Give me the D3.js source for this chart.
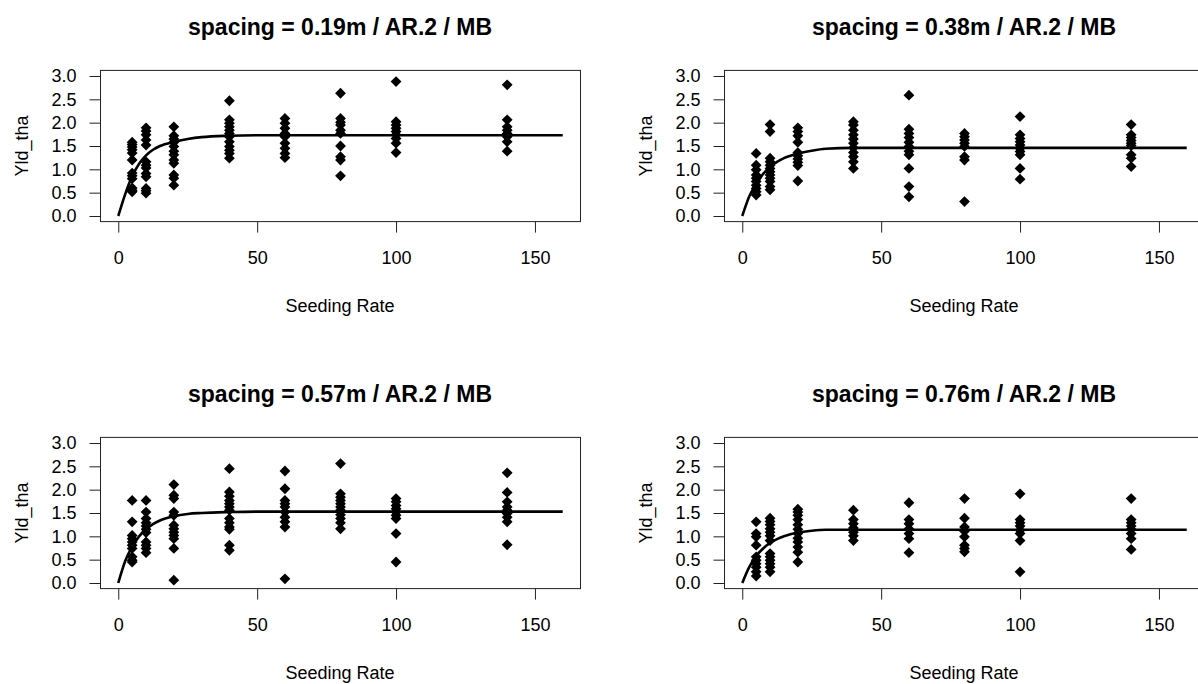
<!DOCTYPE html>
<html lang="en">
<head>
<meta charset="UTF-8">
<title>Seeding rate vs yield</title>
<script src="https://cdn.jsdelivr.net/npm/d3@7"></script>
<style>
  body { margin: 0; background: #fff; }
  text { font-family: "Liberation Sans", Arial, sans-serif; fill: #000; }
</style>
</head>
<body>
<script>

var rates = [5, 10, 20, 40, 60, 80, 100, 140];

var titles = [
    "spacing = 0.19m / AR.2 / MB",
    "spacing = 0.38m / AR.2 / MB",
    "spacing = 0.57m / AR.2 / MB",
    "spacing = 0.76m / AR.2 / MB"
];

// one list of yields per seeding rate
var yld019 = [
    [1.58, 1.53, 1.48, 1.42, 1.35, 1.2, 0.92, 0.86, 0.8, 0.6, 0.55, 0.52],
    [1.89, 1.82, 1.74, 1.63, 1.52, 1.16, 1.09, 1.03, 0.91, 0.84, 0.59, 0.54, 0.49],
    [1.91, 1.72, 1.65, 1.58, 1.49, 1.39, 1.31, 1.2, 1.13, 0.88, 0.81, 0.66],
    [2.47, 2.06, 1.99, 1.91, 1.84, 1.77, 1.7, 1.59, 1.49, 1.41, 1.34, 1.24],
    [2.09, 1.99, 1.88, 1.77, 1.7, 1.56, 1.45, 1.34, 1.25],
    [2.63, 2.09, 2.01, 1.95, 1.84, 1.77, 1.5, 1.27, 1.2, 0.86],
    [2.88, 2.02, 1.95, 1.88, 1.81, 1.74, 1.66, 1.56, 1.36],
    [2.81, 2.06, 1.91, 1.84, 1.77, 1.7, 1.59, 1.39]
];
var yld038 = [
    [1.34, 1.09, 0.99, 0.88, 0.81, 0.74, 0.66, 0.59, 0.52, 0.45],
    [1.96, 1.81, 1.24, 1.16, 1.09, 1.02, 0.95, 0.88, 0.81, 0.74, 0.63, 0.56],
    [1.89, 1.81, 1.72, 1.58, 1.36, 1.29, 1.22, 1.15, 1.08, 0.75],
    [2.02, 1.95, 1.84, 1.74, 1.65, 1.56, 1.46, 1.36, 1.27, 1.16, 1.02],
    [2.59, 1.86, 1.77, 1.68, 1.58, 1.49, 1.39, 1.31, 1.02, 0.63, 0.41],
    [1.77, 1.7, 1.63, 1.56, 1.49, 1.27, 1.2, 0.31],
    [2.13, 1.74, 1.66, 1.59, 1.52, 1.45, 1.38, 1.31, 1.02, 0.79],
    [1.96, 1.74, 1.68, 1.62, 1.56, 1.51, 1.31, 1.24, 1.06]
];
var yld057 = [
    [1.77, 1.31, 1.02, 0.95, 0.88, 0.81, 0.74, 0.56, 0.49, 0.45],
    [1.77, 1.52, 1.38, 1.29, 1.22, 1.15, 1.08, 0.88, 0.81, 0.74, 0.65],
    [2.11, 1.88, 1.81, 1.52, 1.45, 1.24, 1.16, 1.09, 1.02, 0.95, 0.74, 0.06],
    [2.45, 1.95, 1.86, 1.77, 1.7, 1.63, 1.56, 1.38, 1.29, 1.2, 1.15, 0.81, 0.7],
    [2.4, 2.02, 1.77, 1.7, 1.63, 1.52, 1.41, 1.31, 1.2, 0.09],
    [2.56, 1.91, 1.84, 1.77, 1.7, 1.63, 1.56, 1.46, 1.38, 1.29, 1.16],
    [1.81, 1.74, 1.66, 1.59, 1.52, 1.45, 1.38, 1.06, 0.45],
    [2.36, 1.94, 1.74, 1.63, 1.56, 1.49, 1.41, 1.31, 0.82]
];
var yld076 = [
    [1.31, 1.06, 0.99, 0.81, 0.56, 0.49, 0.41, 0.34, 0.24, 0.15],
    [1.39, 1.32, 1.25, 1.16, 1.09, 1.01, 0.91, 0.63, 0.56, 0.49, 0.41, 0.34, 0.24],
    [1.58, 1.52, 1.45, 1.36, 1.25, 1.15, 1.06, 0.96, 0.88, 0.77, 0.66, 0.45],
    [1.56, 1.36, 1.27, 1.18, 1.09, 1.01, 0.91],
    [1.72, 1.36, 1.27, 1.16, 1.06, 0.95, 0.65],
    [1.81, 1.39, 1.2, 1.11, 0.99, 0.81, 0.74, 0.67],
    [1.91, 1.36, 1.29, 1.22, 1.13, 1.06, 0.91, 0.24],
    [1.81, 1.36, 1.29, 1.22, 1.15, 1.06, 0.95, 0.72]
];

// fitted curve
var curveX = [0, 2.5, 5, 7.5, 10, 12.5, 15, 20, 25, 30, 40, 50, 160];
var fit019 = [0, 0.47, 0.85, 1.12, 1.3, 1.42, 1.5, 1.59, 1.65, 1.69, 1.72, 1.73, 1.73];
var fit038 = [0, 0.42, 0.68, 0.9, 1.05, 1.16, 1.24, 1.34, 1.4, 1.44, 1.46, 1.46, 1.46];
var fit057 = [0, 0.47, 0.78, 1.0, 1.15, 1.26, 1.34, 1.43, 1.48, 1.5, 1.52, 1.53, 1.53];
var fit076 = [0, 0.34, 0.58, 0.74, 0.86, 0.94, 1.0, 1.08, 1.12, 1.14, 1.14, 1.14, 1.14];

var yTicks = [0, 0.5, 1, 1.5, 2, 2.5, 3];
var xTicks = [0, 50, 100, 150];

var panels = [
    {title: titles[0], yld: yld019, fit: fit019, ox: 100.5, oy: 70.4},
    {title: titles[1], yld: yld038, fit: fit038, ox: 724.5, oy: 70.4},
    {title: titles[2], yld: yld057, fit: fit057, ox: 100.5, oy: 437.4},
    {title: titles[3], yld: yld076, fit: fit076, ox: 724.5, oy: 437.4}
];

var W = 480, H = 151.2;

var svg = d3.select("body")
        .append("svg")
        .attr("width", 1198)
        .attr("height", 684);

panels.forEach(function(p) {
    var x = d3.scaleLinear().domain([-6.4, 166.4]).range([p.ox, p.ox + W]);
    var y = d3.scaleLinear().domain([-0.12, 3.12]).range([p.oy + H, p.oy]);

    var g = svg.append("g");

    // points
    var pts = [];
    rates.forEach(function(r, i) {
        p.yld[i].forEach(function(v) { pts.push({x: r, y: v}); });
    });
    g.selectAll(".pt")
            .data(pts)
            .enter()
            .append("path")
            .attr("class", "pt")
            .attr("d", "M0,-5.4L5.4,0L0,5.4L-5.4,0Z")
            .attr("transform", function(d) { return "translate(" + x(d.x) + "," + y(d.y) + ")"; })
            .style("fill", "#000");

    // fitted curve
    var line = d3.line()
            .x(function(d, i) { return x(curveX[i]); })
            .y(function(d) { return y(d); })
            .curve(d3.curveMonotoneX);
    g.append("path")
            .attr("d", line(p.fit))
            .style("fill", "none")
            .style("stroke", "#000")
            .style("stroke-width", 2.6);

    // box
    g.append("rect")
            .attr("x", p.ox).attr("y", p.oy)
            .attr("width", W).attr("height", H)
            .style("fill", "none")
            .style("stroke", "#222")
            .style("stroke-width", 1);

    // axes
    var ya = g.append("g")
            .attr("transform", "translate(" + p.ox + ",0)")
            .call(d3.axisLeft(y).tickValues(yTicks).tickFormat(d3.format(".1f"))
                    .tickSize(11).tickPadding(13));
    ya.select(".domain").remove();

    var xa = g.append("g")
            .attr("transform", "translate(0," + (p.oy + H) + ")")
            .call(d3.axisBottom(x).tickValues(xTicks).tickFormat(d3.format("d"))
                    .tickSize(11).tickPadding(19));
    xa.select(".domain").remove();

    [ya, xa].forEach(function(a) {
        a.attr("font-family", null).attr("font-size", null);
        a.selectAll("line").style("stroke", "#222");
        a.selectAll("text").style("font-size", "18px").style("fill", "#000");
    });

    // labels
    g.append("text")
            .attr("x", p.ox + W / 2 - 0.5)
            .attr("y", p.oy - 35.4)
            .attr("text-anchor", "middle")
            .style("font-weight", "bold")
            .style("font-size", "23px")
            .text(p.title);

    g.append("text")
            .attr("x", p.ox + W / 2 - 0.5)
            .attr("y", p.oy + H + 90)
            .attr("text-anchor", "middle")
            .style("font-size", "18px")
            .text("Seeding Rate");

    g.append("text")
            .attr("transform", "translate(" + (p.ox - 73) + "," + (p.oy + H / 2) + ") rotate(-90)")
            .attr("text-anchor", "middle")
            .style("font-size", "18px")
            .text("Yld_tha");
});

</script>
</body>
</html>
